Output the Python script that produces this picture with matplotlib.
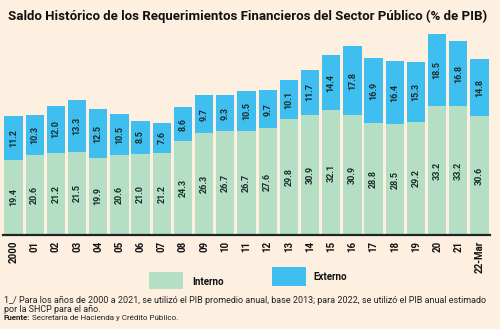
import matplotlib
matplotlib.use("Agg")
import matplotlib.pyplot as plt
from matplotlib.patches import Rectangle
from matplotlib import font_manager

categorias = ["2000", "01", "02", "03", "04", "05", "06", "07", "08", "09", "10",
              "11", "12", "13", "14", "15", "16", "17", "18", "19", "20", "21", "22-Mar"]
interno = [19.4, 20.6, 21.2, 21.5, 19.9, 20.6, 21.0, 21.2, 24.3, 26.3, 26.7,
           26.7, 27.6, 29.8, 30.9, 32.1, 30.9, 28.8, 28.5, 29.2, 33.2, 33.2, 30.6]
externo = [11.2, 10.3, 12.0, 13.3, 12.5, 10.5, 8.5, 7.6, 8.6, 9.7, 9.3,
           10.5, 9.7, 10.1, 11.7, 14.4, 17.8, 16.9, 16.4, 15.3, 18.5, 16.8, 14.8]

BG = "#fdf0e1"
GREEN = "#b4dfc4"
BLUE = "#3fbfef"
FONT = "Roboto"
names = {f.name for f in font_manager.fontManager.ttflist}
NARROW = "Liberation Sans Narrow" if "Liberation Sans Narrow" in names else FONT

W, H = 500, 329
fig = plt.figure(figsize=(W / 100, H / 100), dpi=100, facecolor=BG)

ax_bottom_px = 235
scale = 3.88
ymax = 54
ax = fig.add_axes([2.9 / W, (H - ax_bottom_px) / H, 487.2 / W, ymax * scale / H])
ax.set_facecolor(BG)
x = list(range(len(categorias)))
ax.bar(x, interno, width=0.86, color=GREEN, linewidth=0)
ax.bar(x, externo, bottom=interno, width=0.86, color=BLUE, linewidth=0)

for xi, a, b in zip(x, interno, externo):
    ax.text(xi, a / 2, f"{a:.1f}", rotation=90, ha="center", va="center",
            fontsize=6.5, fontweight="bold", color="#1c2b2b", family=FONT)
    ax.text(xi, a + b / 2, f"{b:.1f}", rotation=90, ha="center", va="center",
            fontsize=6.5, fontweight="bold", color="#1c2b2b", family=FONT)

ax.set_xlim(-0.5, len(categorias) - 0.5)
ax.set_ylim(0, ymax)
for s in ["top", "right", "left"]:
    ax.spines[s].set_visible(False)
ax.spines["bottom"].set_linewidth(1.6)
ax.spines["bottom"].set_color("#222222")
ax.set_yticks([])
ax.set_xticks(x)
ax.set_xticklabels(categorias, rotation=90, fontsize=7, fontweight="bold",
                   family=FONT, color="#111111")
ax.tick_params(axis="x", length=0, pad=4)

fig.text(0.495, 1 - 16 / H, "Saldo Histórico de los Requerimientos Financieros del Sector Público (% de PIB)",
         ha="center", va="center", fontsize=9.5, fontweight="bold", family=FONT, color="#111111")

# legend
fig.add_artist(Rectangle((149 / W, 1 - 289 / H), 34 / W, 17 / H,
                         transform=fig.transFigure, color=GREEN, lw=0))
fig.text(192 / W, 1 - 282 / H, "Interno", fontsize=7, fontweight="bold", family=FONT,
         va="center", ha="left", color="#111111")
fig.add_artist(Rectangle((272 / W, 1 - 286 / H), 34 / W, 19 / H,
                         transform=fig.transFigure, color=BLUE, lw=0))
fig.text(313 / W, 1 - 277 / H, "Externo", fontsize=7, fontweight="bold", family=FONT,
         va="center", ha="left", color="#111111")

fs_note = 7.2 if NARROW != FONT else 6.45
fig.text(4 / W, 1 - 300 / H,
         "1_/ Para los años de 2000 a 2021, se utilizó el PIB promedio anual, base 2013; para 2022, se utilizó el PIB anual estimado",
         fontsize=fs_note, family=NARROW, va="center", ha="left", color="#222222")
fig.text(4 / W, 1 - 309 / H, "por la SHCP para el año.",
         fontsize=fs_note, family=NARROW, va="center", ha="left", color="#222222")
t = fig.text(4 / W, 1 - 318 / H, "Fuente:", fontsize=5.8, fontweight="bold",
             family=FONT, va="center", ha="left", color="#222222")
fig.canvas.draw()
bb = t.get_window_extent()
fig.text((bb.x1 + 2) / W, 1 - 318 / H, "Secretaría de Hacienda y Crédito Público.",
         fontsize=5.8, family=FONT, va="center", ha="left", color="#222222")

fig.savefig("out.png", dpi=100, facecolor=BG)
